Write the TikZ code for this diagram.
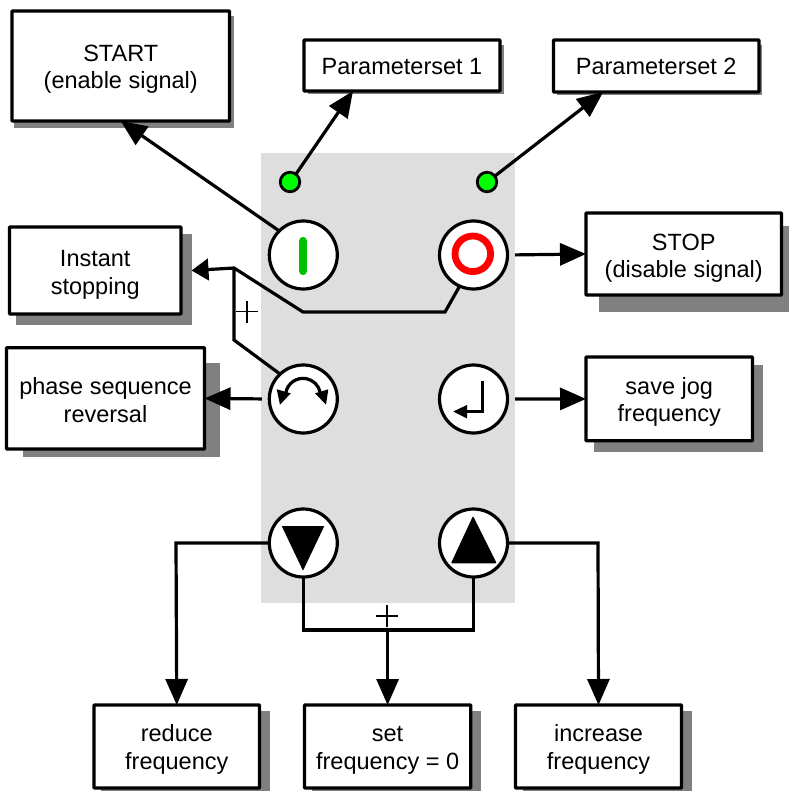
\documentclass[tikz,border=0pt]{standalone}
\usepackage{fontspec}
\setmainfont{Liberation Sans}
\usetikzlibrary{arrows.meta}
\definecolor{panelgray}{HTML}{DEDEDE}
\definecolor{shadowgray}{HTML}{808080}
\definecolor{ledgreen}{HTML}{00FF00}
\definecolor{bargreen}{HTML}{00C000}
\newcommand{\lineshift}[1]{\rule{0pt}{\dimexpr 17pt+#1pt*2\relax}}
\tikzset{
  every node/.append style={font=\fontsize{23.5pt}{27.6pt}\selectfont, align=center, inner sep=0pt, outer sep=0pt},
  label box/.style={draw=black, line width=3.2pt, fill=white, rounded corners=0.6pt},
  button/.style={circle, draw=black, line width=3.2pt, fill=white, minimum size=68pt},
  led/.style={circle, draw=black, line width=2.8pt, fill=ledgreen, minimum size=19.5pt},
  conn/.style={draw=black, line width=3.2pt, line join=miter},
  arrowed/.style={conn, -{Triangle[length=26pt,width=22pt]}},
  shortarrowed/.style={conn, -{Triangle[length=17pt,width=21.5pt]}},
  thinplus/.style={draw=black, line width=1.2pt},
  shadowbox/.style={fill=shadowgray, draw=none},
  glyph/.style={fill=black, draw=none}
}
\begin{document}
\begin{tikzpicture}[x=1pt,y=-1pt]
\useasboundingbox (0,0) rectangle (789,791);
\fill[white] (0,0) rectangle (789,791);
\fill[panelgray] (261,153) rectangle (515,603);

% shadows
\fill[shadowbox] (14,16) rectangle (234,128.5);
\fill[shadowbox] (308,45) rectangle (503.5,93.8);
\fill[shadowbox] (557,45) rectangle (762,95);
\fill[shadowbox] (16,234) rectangle (192,325);
\fill[shadowbox] (599,226) rectangle (789,312);
\fill[shadowbox] (23,363) rectangle (220,457);
\fill[shadowbox] (594,365) rectangle (763,451.5);
\fill[shadowbox] (101,711) rectangle (270,791);
\fill[shadowbox] (312,711) rectangle (481,791);
\fill[shadowbox] (523,711) rectangle (692,791);

% boxes
\node[label box, minimum width=217.5pt, minimum height=110pt] (startbox) at (120.75,66) {\lineshift{3}START\\(enable signal)};
\node[label box, minimum width=196pt, minimum height=51pt] (pone) at (402,65.5) {\lineshift{1}Parameterset 1};
\node[label box, minimum width=205.5pt, minimum height=52pt] (ptwo) at (656.25,66) {\lineshift{0.5}Parameterset 2};
\node[label box, minimum width=171.5pt, minimum height=87pt] (instant) at (95.25,270.5) {\lineshift{4}Instant\\stopping};
\node[label box, minimum width=195.5pt, minimum height=82pt] (stopbox) at (683.75,254) {\lineshift{4}STOP\\(disable signal)};
\node[label box, minimum width=198pt, minimum height=101.3pt] (phase) at (105.5,398.4) {\lineshift{1.5}phase sequence\\reversal};
\node[label box, minimum width=166.5pt, minimum height=83.7pt] (savejog) at (669.25,398.9) {\lineshift{3}save jog\\frequency};
\node[label box, minimum width=165.5pt, minimum height=83pt] (reduce) at (176.75,746.5) {\lineshift{3}reduce\\frequency};
\node[label box, minimum width=166.2pt, minimum height=83pt] (setzero) at (387.6,746.5) {\lineshift{3}set\\frequency = 0};
\node[label box, minimum width=166pt, minimum height=83pt] (increase) at (598.5,746.5) {\lineshift{3}increase\\frequency};

% buttons and LEDs
\node[led] (ledone) at (290,182) {};
\node[led] (ledtwo) at (487,182) {};
\node[button] (btnstart) at (303.3,255) {};
\node[button] (btnstop) at (473.5,255) {};
\node[button] (btnrev) at (303.3,399) {};
\node[button] (btnenter) at (473.5,399) {};
\node[button] (btndown) at (303.3,543) {};
\node[button] (btnup) at (473.5,543) {};

% free connector bends
\coordinate (stopbend) at (445,312);
\coordinate (lowbend) at (303,312);
\coordinate (junction) at (234,268);
\coordinate (revbend) at (234,340);
\coordinate (downcorner) at (176,543);
\coordinate (upcorner) at (598,543);
\coordinate (busleft) at (303.3,630);
\coordinate (busright) at (473.5,630);
\coordinate (busmid) at (387.6,630);

% connectors
\draw[arrowed] (btnstart.135) -- (startbox.south);
\draw[arrowed] (ledone.53) -- ([xshift=-49pt]pone.south);
\draw[arrowed] (ledtwo.37) -- ([xshift=-53pt]ptwo.south);
\draw[shortarrowed] (btnstop.246) -- (stopbend) -- (lowbend) -- (junction) -- ([xshift=10.5pt]instant.east);
\draw[conn] (btnrev.133) -- (revbend) -- (junction);
\draw[arrowed, shorten <=7.5pt] (btnstop.east) -- (stopbox.west);
\draw[arrowed, shorten <=7.5pt] (btnrev.west) -- (phase.east);
\draw[arrowed, shorten <=7.5pt] (btnenter.east) -- (savejog.west);
\draw[arrowed] (btndown.west) -- (downcorner) -- (reduce.north);
\draw[arrowed] (btnup.east) -- (upcorner) -- (increase.north);
\draw[conn] (btndown.south) -- (busleft) -- (busright) -- (btnup.south);
\draw[arrowed] (busmid) -- (setzero.north);

% plus signs
\draw[thinplus] (236,311.5) -- (258,311.5) (247,300.5) -- (247,322.5);
\draw[thinplus] (376,616) -- (398,616) (387,605) -- (387,627);

% icons
\draw[bargreen, line width=8.3pt, line cap=round] (303,241) -- (303,271);
\draw[red, line width=6.8pt] (472.8,253.8) circle (17.8);
\draw[black, line width=3.2pt] (285.8,392.8) arc[start angle=170, end angle=10, x radius=17.5, y radius=-17.5];
\fill[glyph] (276.7,389.3) -- (290.7,393.3) -- (280,404.7) -- cycle;
\fill[glyph] (328.3,389.3) -- (315,393.3) -- (326,404.7) -- cycle;
\draw[black, line width=3.2pt] (482.3,380.7) -- (482.3,411.5) -- (463,411.5);
\fill[glyph] (453.3,411.5) -- (467,405) -- (467,418.5) -- cycle;
\fill[glyph] (281.7,526) -- (324.3,526) -- (303,570.7) -- cycle;
\fill[glyph, rounded corners=1pt] (473,516) -- (496.7,563.3) -- (451,563.3) -- cycle;
\end{tikzpicture}
\end{document}
